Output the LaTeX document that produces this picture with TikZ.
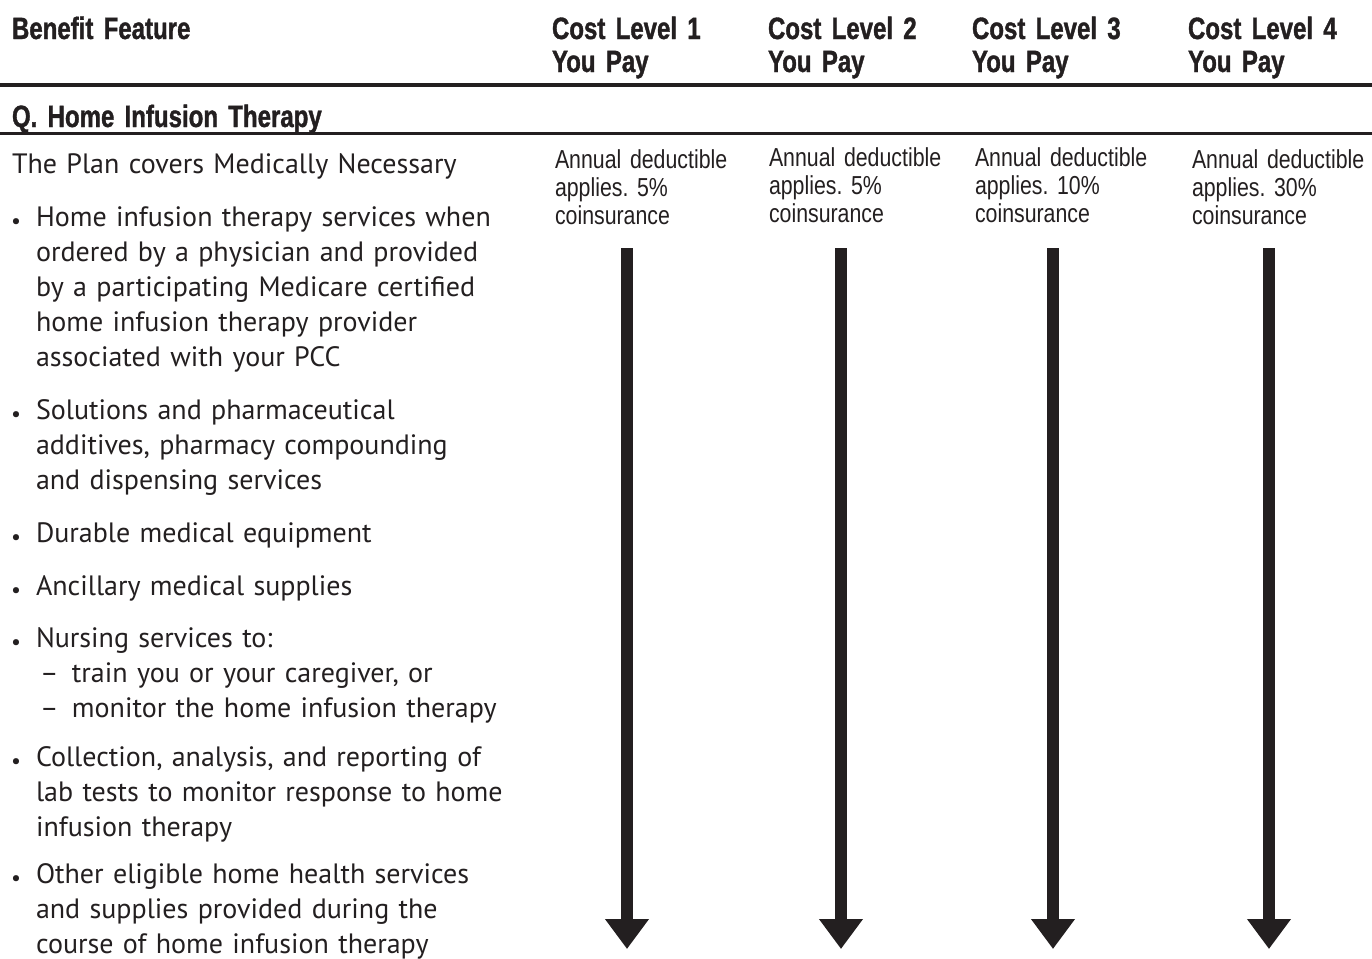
\documentclass[tikz,border=0pt]{standalone}
\usepackage{fontspec}
\setmainfont{PT Sans}
\newfontfamily\hdrfont[FakeStretch=0.78,FakeBold=1.2]{Liberation Sans}
\newfontfamily\costfont[FakeStretch=0.82]{Liberation Sans}
\usepackage{tikz}
\usetikzlibrary{positioning}
\usetikzlibrary{arrows.meta}
\definecolor{ink}{RGB}{35,31,32}
\frenchspacing
\newcommand\itm{\llap{\raisebox{-1.2pt}{\fontsize{11}{11}\selectfont\textbullet}\hspace{7.5pt}}}
\newcommand\subitm{\makebox[18pt][l]{\hspace{2pt}--}}

\begin{document}
\begin{tikzpicture}[
    x = .5pt,
    y = -.5pt,
    every node/.style = {inner sep=0pt, outer sep=0pt, text=ink},
    hdr/.style = {
      anchor=base west,
      text width=90pt,
      align=left,
      font=\hdrfont\bfseries\fontsize{15.4}{16.5}\selectfont
    },
    cost/.style = {
      anchor=base west,
      text width=95pt,
      align=left,
      font=\costfont\fontsize{13}{14}\selectfont
    },
    item/.style = {
      anchor=base west,
      text width=240pt,
      align=left,
      font=\fontsize{14}{17.6}\selectfont
    },
    rulea/.style = {
      draw=ink,
      line width=2pt
    },
    payarrow/.style = {
      draw=ink,
      line width=6pt,
      -{Triangle[length=15pt,width=21pt]}
    }
  ]
    \useasboundingbox (0,0) rectangle (1372,959);

    % header row
    \node[hdr, text width=150pt] (feature) at (12,39) {Benefit Feature};
    \node[hdr] (lvl1) at (552,39) {Cost Level 1\\You Pay};
    \node[hdr] (lvl2) at (768,39) {Cost Level 2\\You Pay};
    \node[hdr] (lvl3) at (972,39) {Cost Level 3\\You Pay};
    \node[hdr] (lvl4) at (1188,39) {Cost Level 4\\You Pay};
    \draw[rulea] (0,85) -- (1372,85);

    \node[hdr, text width=250pt] (section) at (12,127) {Q. Home Infusion Therapy};
    \draw[rulea, line width=1.5pt] (0,133) -- (1372,133);

    % benefit feature column
    \node[item] (covers) at (12,173) {The Plan covers Medically Necessary};
    \node[item] (homeinf) at (36,226) {\itm Home infusion therapy services when\\ordered by a physician and provided\\by a participating Medicare certified\\home infusion therapy provider\\associated with your PCC};
    \node[item] (solutions) at (36,419) {\itm Solutions and pharmaceutical\\additives, pharmacy compounding\\and dispensing services};
    \node[item] (durable) at (36,542) {\itm Durable medical equipment};
    \node[item] (ancillary) at (36,595) {\itm Ancillary medical supplies};
    \node[item] (nursing) at (36,647) {\itm Nursing services to:\\\subitm train you or your caregiver, or\\\subitm monitor the home infusion therapy};
    \node[item] (labtests) at (36,766) {\itm Collection, analysis, and reporting of\\lab tests to monitor response to home\\infusion therapy};
    \node[item] (other) at (36,883) {\itm Other eligible home health services\\and supplies provided during the\\course of home infusion therapy};

    % cost level columns
    \node[cost] (pay1) at (555,168) {Annual deductible\\applies. 5\%\\coinsurance};
    \node[cost] (pay2) at (769,166) {Annual deductible\\applies. 5\%\\coinsurance};
    \node[cost] (pay3) at (975,166) {Annual deductible\\applies. 10\%\\coinsurance};
    \node[cost] (pay4) at (1192,168) {Annual deductible\\applies. 30\%\\coinsurance};

    \foreach \n/\x in {1/627, 2/841, 3/1053, 4/1269} {
      \coordinate (top\n) at (\x,248);
      \coordinate (tip\n) at (\x,949);
      \draw[payarrow] (top\n) -- (tip\n);
    }
  \end{tikzpicture}
\end{document}
